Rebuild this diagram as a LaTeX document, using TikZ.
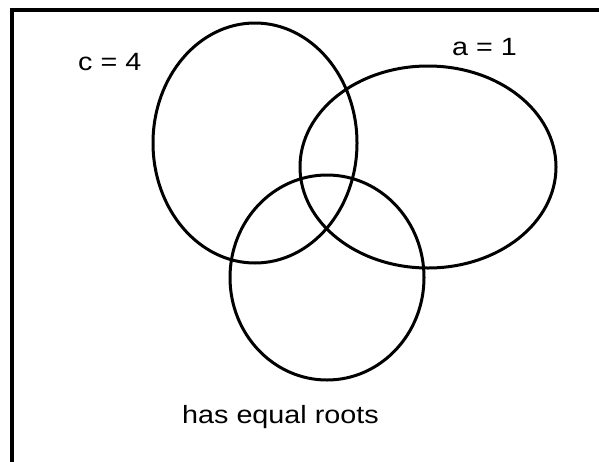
\documentclass[tikz,border=0pt]{standalone}
\usepackage{fontspec}
\setmainfont{Liberation Sans}
\begin{document}
\begin{tikzpicture}[x=1pt,y=-1pt,
  venn/.style={draw=black,line width=3pt},
  lbl/.style={inner sep=0pt,anchor=base west,font=\fontsize{25}{30}\selectfont}]
\useasboundingbox (0,0) rectangle (599,461);
\draw[line width=4pt] (12,480) -- (12,10) -- (620,10);
\draw[venn] (255,143) ellipse [x radius=102, y radius=120];
\draw[venn] (428,167) ellipse [x radius=128, y radius=101];
\draw[venn] (327,277.5) ellipse [x radius=97, y radius=102.5];
\node[lbl] (c) at (78,70) {\scalebox{1.15}[1]{c = 4}};
\node[lbl] (a) at (452,55) {\scalebox{1.15}[1]{a = 1}};
\node[lbl] (r) at (182,423) {\scalebox{1.15}[1]{has equal roots}};
\end{tikzpicture}
\end{document}
